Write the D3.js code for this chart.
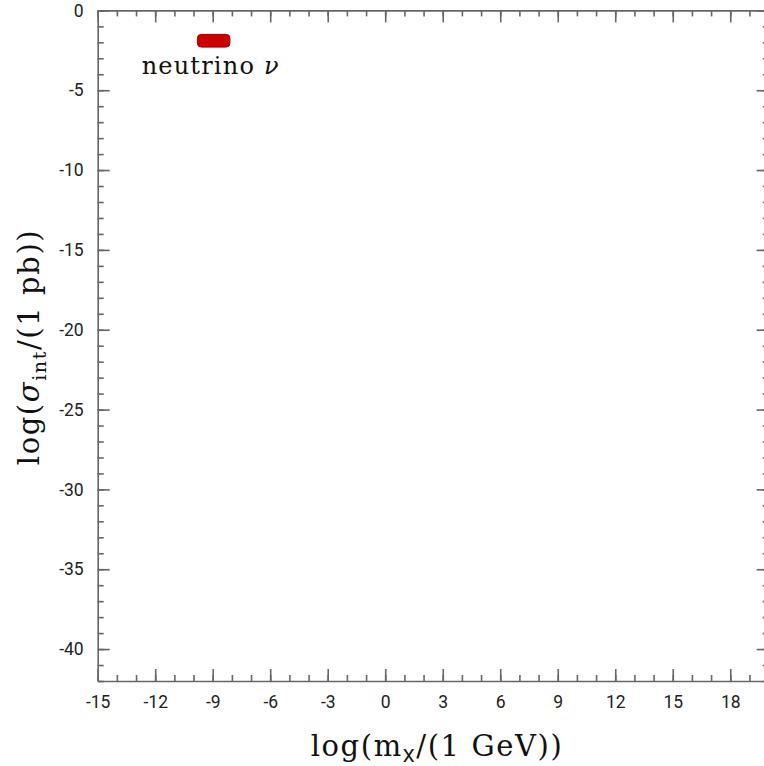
<!DOCTYPE html>
<html>
<head>
<meta charset="utf-8">
<script src="https://cdn.jsdelivr.net/npm/d3@7"></script>
<style>
  html, body { margin: 0; padding: 0; background: #fff; }
  svg { display: block; }
  .tick text { font-family: Roboto, "Liberation Sans", sans-serif; font-size: 17.5px; fill: #222; }
  .domain, .tick line { stroke: #666; stroke-width: 1.6px; }
  .title { font-family: "DejaVu Serif", "Liberation Serif", serif; fill: #111; }
</style>
</head>
<body>
<svg id="chart" width="764" height="766"></svg>
<script>
// Axis extents (log10 of mass in GeV, log10 of cross-section in pb)
const xDomain = [-15, 20];
const yDomain = [-42, 0];
const xMajorTicks = [-15, -12, -9, -6, -3, 0, 3, 6, 9, 12, 15, 18];
const yMajorTicks = [0, -5, -10, -15, -20, -25, -30, -35, -40];
const xMinorTicks = d3.range(-15, 21, 1);
const yMinorTicks = d3.range(-42, 1, 1);

// Candidate particle regions: mass range and interaction cross-section range
const particles = ["neutrino"];
const particleNames = ["neutrino"];
const particleSymbols = ["\u03BD"];
const massLow = [-9.8];
const massHigh = [-8.1];
const sigmaLow = [-2.3];
const sigmaHigh = [-1.5];

const svg = d3.select("#chart");
const x = d3.scaleLinear().domain(xDomain).range([97.7, 768.6]);
const y = d3.scaleLinear().domain(yDomain).range([681, 10.4]);

const x0 = x(xDomain[0]), x1 = x(xDomain[1]);
const y0 = y(yDomain[0]), y1 = y(yDomain[1]);

// Minor ticks on all four sides
svg.append("g").attr("transform", `translate(0,${y0})`)
  .call(d3.axisBottom(x).tickValues(xMinorTicks).tickSize(-6).tickFormat(""))
  .call(g => g.select(".domain").remove());
svg.append("g").attr("transform", `translate(0,${y1})`)
  .call(d3.axisTop(x).tickValues(xMinorTicks).tickSize(-6).tickFormat(""))
  .call(g => g.select(".domain").remove());
svg.append("g").attr("transform", `translate(${x0},0)`)
  .call(d3.axisLeft(y).tickValues(yMinorTicks).tickSize(-6).tickFormat(""))
  .call(g => g.select(".domain").remove());
svg.append("g").attr("transform", `translate(${x1},0)`)
  .call(d3.axisRight(y).tickValues(yMinorTicks).tickSize(-6).tickFormat(""))
  .call(g => g.select(".domain").remove());

// Major ticks with labels on bottom and left
svg.append("g").attr("transform", `translate(0,${y0})`)
  .call(d3.axisBottom(x).tickValues(xMajorTicks).tickSize(-12).tickSizeOuter(0).tickPadding(15).tickFormat(d3.format("d")));
svg.append("g").attr("transform", `translate(0,${y1})`)
  .call(d3.axisTop(x).tickValues(xMajorTicks).tickSize(-12).tickSizeOuter(0).tickFormat(""));
svg.append("g").attr("transform", `translate(${x0},0)`)
  .call(d3.axisLeft(y).tickValues(yMajorTicks).tickSize(-12).tickSizeOuter(0).tickPadding(14).tickFormat(d3.format("d")));
svg.append("g").attr("transform", `translate(${x1},0)`)
  .call(d3.axisRight(y).tickValues(yMajorTicks).tickSize(-12).tickSizeOuter(0).tickFormat(""));

// Hyphen-minus style labels
svg.selectAll(".tick text").text(function() { return this.textContent.replace("\u2212", "-"); });

// Particle regions
const regions = svg.append("g");
particles.forEach((p, i) => {
  regions.append("rect")
    .attr("x", x(massLow[i]))
    .attr("y", y(sigmaHigh[i]))
    .attr("width", x(massHigh[i]) - x(massLow[i]))
    .attr("height", y(sigmaLow[i]) - y(sigmaHigh[i]))
    .attr("rx", 4).attr("ry", 4)
    .attr("fill", "#cc0000")
    .attr("stroke", "#a50000")
    .attr("stroke-width", 1);
  const label = regions.append("text")
    .attr("class", "title")
    .attr("x", (x(massLow[i]) + x(massHigh[i])) / 2 - 3)
    .attr("y", y(sigmaLow[i]) + 27)
    .attr("text-anchor", "middle")
    .style("font-size", "24px")
    .style("letter-spacing", "1.2px");
  label.append("tspan").text(particleNames[i] + " ");
  label.append("tspan").style("font-style", "italic").text(particleSymbols[i]);
});

// Axis titles
const xt = svg.append("text").attr("class", "title")
  .attr("x", 437).attr("y", 756)
  .attr("text-anchor", "middle")
  .style("font-size", "29px")
  .style("letter-spacing", "1.6px");
xt.append("tspan").text("log(m");
xt.append("tspan").attr("dy", 6).style("font-size", "19px")
  .style("font-family", "Roboto, 'Liberation Sans', sans-serif").text("X");
xt.append("tspan").attr("dy", -6).text("/(1 GeV))");

const yt = svg.append("text").attr("class", "title")
  .attr("transform", "translate(39,347) rotate(-90)")
  .attr("text-anchor", "middle")
  .style("font-size", "29px")
  .style("letter-spacing", "1.6px");
yt.append("tspan").text("log(");
yt.append("tspan").style("font-style", "italic").text("\u03C3");
yt.append("tspan").attr("dy", 7).style("font-size", "19px").text("int");
yt.append("tspan").attr("dy", -7).text("/(1 pb))");
</script>
</body>
</html>
